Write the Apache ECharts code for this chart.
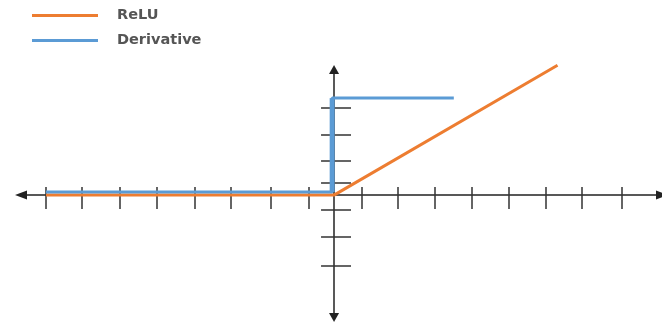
<!DOCTYPE html>
<html><head><meta charset="utf-8">
<script src="https://cdn.jsdelivr.net/npm/echarts@6/dist/echarts.min.js"></script>
<style>html,body{margin:0;padding:0;background:#fff}#c{width:662px;height:327px}</style>
</head><body><div id="c"></div>
<script>
// Data (x in tick-spacing units, origin at the axes crossing)
const seriesNames = ['ReLU', 'Derivative'];
const reluData = [[-7.72, 0], [0, 0], [5.99, 4.9]];
const derivativeData = [[-7.72, 0.12], [-0.05, 0.12], [-0.05, 3.66], [3.21, 3.66]];
const derivativeJump = [[-0.05, 0.12], [-0.05, 3.66]];
const xTicks = [-7.72, -6.76, -5.75, -4.76, -3.72, -2.76, -1.69, -0.68, 0.73, 1.72, 2.71, 3.69, 4.68, 5.67, 6.65, 7.72];
const yTicks = [3.28, 2.26, 1.28, 0.45, -0.57, -1.58, -2.68];
const xRange = [-8.39, 8.79];
const yRange = [-4.62, 4.74];

const axisColor = '#222';
function xAx(showLine, inside, len) {
  return {
    type: 'value', min: xRange[0], max: xRange[1], position: 'bottom',
    axisLine: { show: showLine, onZero: true, onZeroAxisIndex: 0,
      symbol: ['triangle', 'triangle'], symbolSize: [9, 12],
      lineStyle: { color: axisColor, width: 1.5 } },
    axisTick: { show: true, inside: inside, length: len, customValues: xTicks,
      lineStyle: { color: '#333', width: 1.5 } },
    axisLabel: { show: false }, splitLine: { show: false }
  };
}
function yAx(showLine, inside, len) {
  return {
    type: 'value', min: yRange[0], max: yRange[1], position: 'left',
    axisLine: { show: showLine, onZero: true, onZeroAxisIndex: 0,
      symbol: ['triangle', 'triangle'], symbolSize: [10, 9],
      lineStyle: { color: axisColor, width: 1.5 } },
    axisTick: { show: true, inside: inside, length: len, customValues: yTicks,
      lineStyle: { color: '#333', width: 1.5 } },
    axisLabel: { show: false }, splitLine: { show: false }
  };
}

const chart = echarts.init(document.getElementById('c'), null, { renderer: 'canvas' });
chart.setOption({
  animation: false,
  backgroundColor: '#fff',
  grid: { left: 21, right: -3, top: 69.5, bottom: 9.5, containLabel: false },
  legend: {
    data: seriesNames, orient: 'vertical', left: 32, top: 6, padding: 0,
    icon: 'rect', itemWidth: 66, itemHeight: 3, itemGap: 6,
    textStyle: { fontFamily: 'DejaVu Sans', fontSize: 14.5, fontWeight: 'bold', color: '#555', lineHeight: 17, padding: [2, 0, 0, 14] }
  },
  xAxis: [xAx(true, false, 14), xAx(false, true, 8)],
  yAxis: [yAx(true, false, 13), yAx(false, true, 17)],
  series: [
    { name: seriesNames[0], type: 'line', data: reluData, showSymbol: false, symbol: 'none', clip: false,
      color: '#ED7D31', lineStyle: { width: 3, color: '#ED7D31' }, z: 3 },
    { name: seriesNames[1], type: 'line', data: derivativeData, showSymbol: false, symbol: 'none', clip: false,
      color: '#5B9BD5', lineStyle: { width: 3, color: '#5B9BD5' }, z: 4 },
    { name: seriesNames[1], type: 'line', data: derivativeJump, showSymbol: false, symbol: 'none', clip: false,
      color: '#5B9BD5', lineStyle: { width: 5, color: '#5B9BD5' }, z: 4 }
  ]
});
</script></body></html>
